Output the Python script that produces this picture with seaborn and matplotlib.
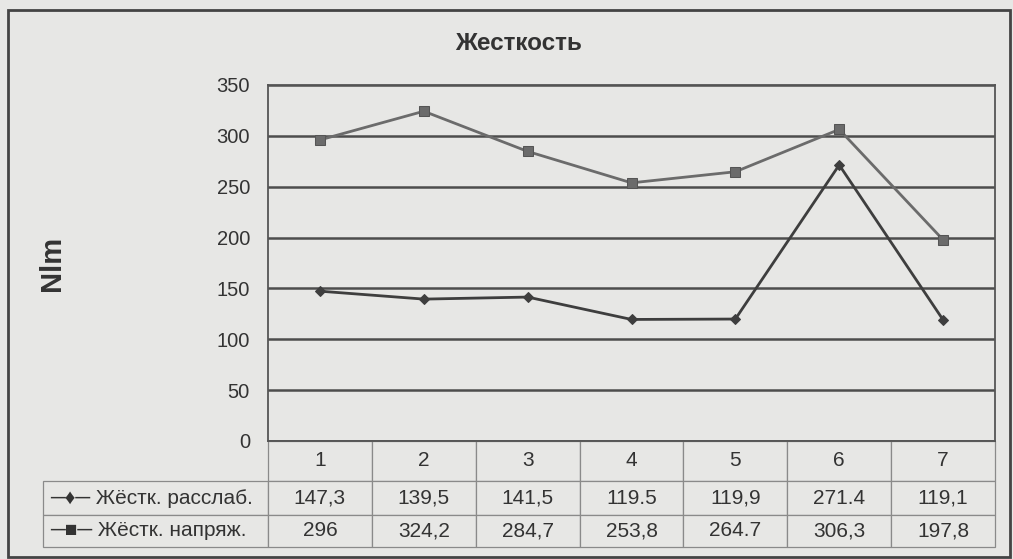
import numpy as np
import pandas as pd
import seaborn as sns
import matplotlib
matplotlib.use("Agg")
import matplotlib.pyplot as plt
from matplotlib.table import Table
from matplotlib.patches import Rectangle

# data
cats = ["1", "2", "3", "4", "5", "6", "7"]
relaxed = [147.3, 139.5, 141.5, 119.5, 119.9, 271.4, 119.1]
tense = [296, 324.2, 284.7, 253.8, 264.7, 306.3, 197.8]
relaxed_txt = ["147,3", "139,5", "141,5", "119.5", "119,9", "271.4", "119,1"]
tense_txt = ["296", "324,2", "284,7", "253,8", "264.7", "306,3", "197,8"]
series_names = ["Жёстк. расслаб.", "Жёстк. напряж."]
yticks = [0, 50, 100, 150, 200, 250, 300, 350]

sns.set_style("white")
plt.rcParams["font.family"] = ["Liberation Sans", "DejaVu Sans"]

bg = "#e7e7e5"
fig = plt.figure(figsize=(10.13, 5.59), dpi=100, facecolor=bg)
ax = fig.add_axes([268 / 1013, 1 - 441 / 559, 727 / 1013, 356 / 559])
ax.set_facecolor(bg)

df = pd.DataFrame({"pos": np.arange(len(cats)), "relaxed": relaxed, "tense": tense})
sns.lineplot(data=df, x="pos", y="tense", ax=ax, color="#6b6b6b", lw=2,
             marker="s", markersize=7, markeredgecolor="#555555", zorder=3)
sns.lineplot(data=df, x="pos", y="relaxed", ax=ax, color="#3e3e3e", lw=2,
             marker="D", markersize=5.5, markeredgecolor="#3e3e3e", zorder=3)

ax.set_xlim(-0.5, len(cats) - 0.5)
ax.set_ylim(0, 350)
ax.set_yticks(yticks)
ax.set_yticklabels([str(v) for v in yticks], fontsize=14.5, color="#333333")
ax.set_xticks([])
ax.set_xlabel("")
ax.set_ylabel("")
ax.tick_params(axis="y", length=0, pad=13)
ax.yaxis.grid(True, color="#4d4d4d", lw=1.8)
ax.set_axisbelow(True)
for s in ax.spines.values():
    s.set_color("#555555")
    s.set_linewidth(1.3)

# data table under the plot
label_w = 225 / 727
col_w = 1 / len(cats)
tbl = Table(ax, bbox=[-label_w, -106 / 356, 1 + label_w, 106 / 356])
heights = [40, 34, 32]
rows = [[""] + cats,
        ["─♦─ " + series_names[0]] + relaxed_txt,
        ["─■─ " + series_names[1]] + tense_txt]
for r, row in enumerate(rows):
    for c, txt in enumerate(row):
        w = label_w if c == 0 else col_w
        cell = tbl.add_cell(r, c, w, heights[r] / 356, text=txt,
                            loc="left" if c == 0 else "center",
                            facecolor=bg, edgecolor="#8a8a8a")
        cell.set_linewidth(0.9)
        cell.get_text().set_fontsize(15)
        cell.get_text().set_color("#333333")
        if c == 0:
            cell.PAD = 0.03
        if r == 0 and c == 0:
            cell.visible_edges = ""
tbl.auto_set_font_size(False)
ax.add_table(tbl)

fig.text(519 / 1013, 1 - 43 / 559, "Жесткость", ha="center", va="center",
         fontsize=17.5, fontweight="bold", color="#333333")
fig.text(52 / 1013, 1 - 263 / 559, "Nlm", ha="center", va="center",
         rotation=90, fontsize=21, fontweight="bold", color="#333333")

fig.patches.append(Rectangle((8 / 1013, 2 / 559), 1002 / 1013, 547 / 559,
                             transform=fig.transFigure, fill=False,
                             edgecolor="#444444", lw=2))

fig.savefig("out.png", dpi=100, facecolor=bg)
